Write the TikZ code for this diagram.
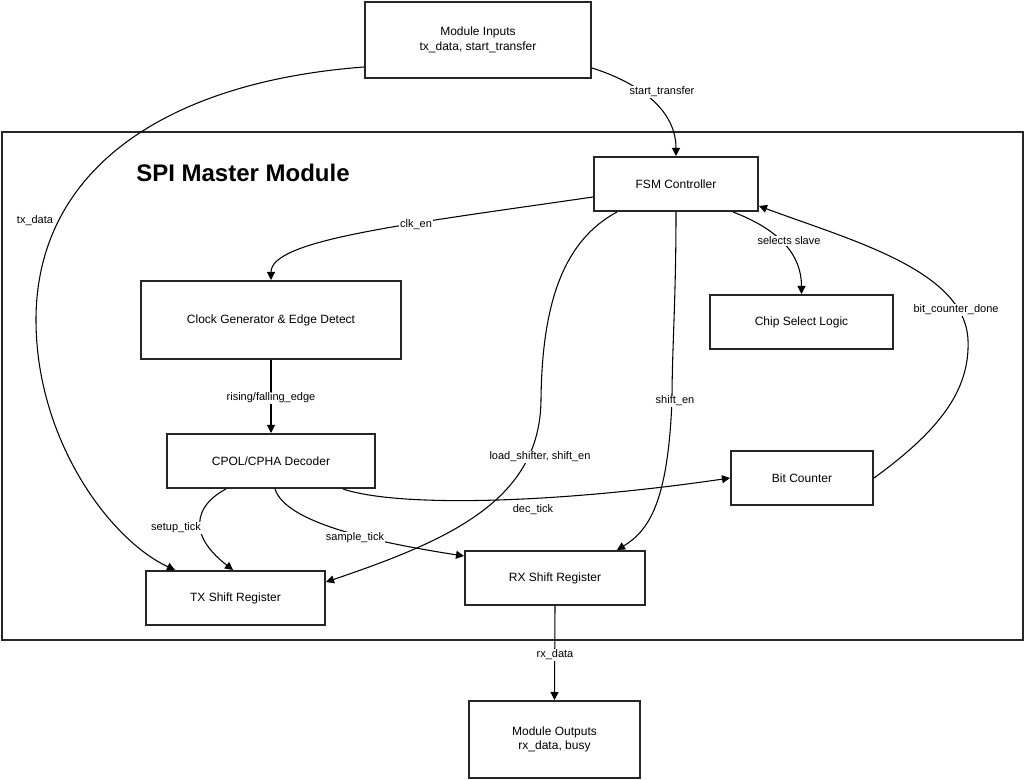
\documentclass[tikz,border=0pt]{standalone}
\usepackage{fontspec}
\setmainfont{Liberation Sans}
\usetikzlibrary{arrows.meta,calc}
\begin{document}
\begin{tikzpicture}[x=0.75pt,y=-0.75pt,
  box/.style={draw=black!85,line width=1.5pt,fill=white,inner sep=0pt,align=center,font=\fontsize{9}{11}\selectfont},
  frame/.style={draw=black!85,line width=1.5pt},
  edge/.style={draw=black,line width=0.8pt,-{Triangle[length=6pt,width=6pt]}},
  lbl/.style={fill=white,inner sep=1pt,font=\fontsize{8.25}{10}\selectfont},
  ttl/.style={font=\fontsize{18}{22}\selectfont\bfseries}]
\useasboundingbox (0,0) rectangle (1025,780);
% outer module frame
\node[frame,minimum width=765.75pt,minimum height=381pt,inner sep=0pt] (spi) at (512.5,386) {};
\node[ttl] (title) at (243,173) {SPI Master Module};
% nodes
\node[box,minimum width=169.5pt,minimum height=57pt] (mi) at (478,40) {Module Inputs\\tx\_data, start\_transfer};
\node[box,minimum width=123pt,minimum height=40.5pt] (fsm) at (676,184) {FSM Controller};
\node[box,minimum width=195pt,minimum height=58.5pt] (clk) at (271,320) {Clock Generator \& Edge Detect};
\node[box,minimum width=137.25pt,minimum height=40.5pt] (cs) at (801.5,322) {Chip Select Logic};
\node[box,minimum width=156pt,minimum height=40.5pt] (cpol) at (271,461) {CPOL/CPHA Decoder};
\node[box,minimum width=106.5pt,minimum height=40.5pt] (bc) at (802,478) {Bit Counter};
\node[box,minimum width=134.25pt,minimum height=40.5pt] (tx) at (235.5,598) {TX Shift Register};
\node[box,minimum width=135pt,minimum height=40.5pt] (rx) at (555,578) {RX Shift Register};
\node[box,minimum width=128.25pt,minimum height=57.75pt] (mo) at (554.5,739.5) {Module Outputs\\rx\_data, busy};
% edges
\draw[edge] ($(mi.east)+(0,28)$) .. controls (630,80) and (676,105) .. (fsm.north);
\draw[edge] ($(mi.west)+(0,27)$) .. controls (165,82) and (36,170) .. (36,320)
   .. controls (36,440) and (110,540) .. ($(tx.north)+(-60.5,0)$);
\draw[edge] ($(fsm.west)+(0,13)$) .. controls (400,225) and (271,240) .. (clk.north);
\draw[edge] ($(fsm.south)+(57,0)$) .. controls (780,230) and (801.5,255) .. (cs.north);
\draw[edge] ($(fsm.south)+(-59,0)$) .. controls (565,240) and (542,300) .. (541,400)
   .. controls (540,500) and (450,540) .. ($(tx.east)+(0,-16)$);
\draw[edge] (fsm.south) .. controls (676,300) and (672,350) .. (672,400)
   .. controls (668,500) and (650,530) .. ($(rx.north)+(62,0)$);
\draw[edge] (clk.south) -- (cpol.north);
\draw[edge] ($(cpol.south)+(-45,0)$) .. controls (205,500) and (198,515) .. (200,528)
   .. controls (202,545) and (220,560) .. ($(tx.north)+(-2.5,0)$);
\draw[edge] ($(cpol.south)+(4,0)$) .. controls (285,520) and (360,540) .. ($(rx.west)+(0,-22)$);
\draw[edge] ($(cpol.south)+(72,0)$) .. controls (400,508) and (560,503) .. (bc.west);
\draw[edge] (bc.east) .. controls (940,430) and (970,390) .. (968,340)
   .. controls (965,270) and (850,240) .. ($(fsm.east)+(0,22)$);
\draw[edge] (rx.south) -- (mo.north);
% edge labels
\node[lbl] (l1) at (662,92) {start\_transfer};
\node[lbl] (l2) at (35,221) {tx\_data};
\node[lbl] (l3) at (416,225) {clk\_en};
\node[lbl] (l4) at (789,241) {selects slave};
\node[lbl] (l5) at (540,457) {load\_shifter, shift\_en};
\node[lbl] (l6) at (675,401) {shift\_en};
\node[lbl] (l7) at (271,398) {rising/falling\_edge};
\node[lbl] (l8) at (176,528) {setup\_tick};
\node[lbl] (l9) at (355,538) {sample\_tick};
\node[lbl] (l10) at (533,510) {dec\_tick};
\node[lbl] (l11) at (956,310) {bit\_counter\_done};
\node[lbl] (l12) at (555,655) {rx\_data};
\end{tikzpicture}
\end{document}
